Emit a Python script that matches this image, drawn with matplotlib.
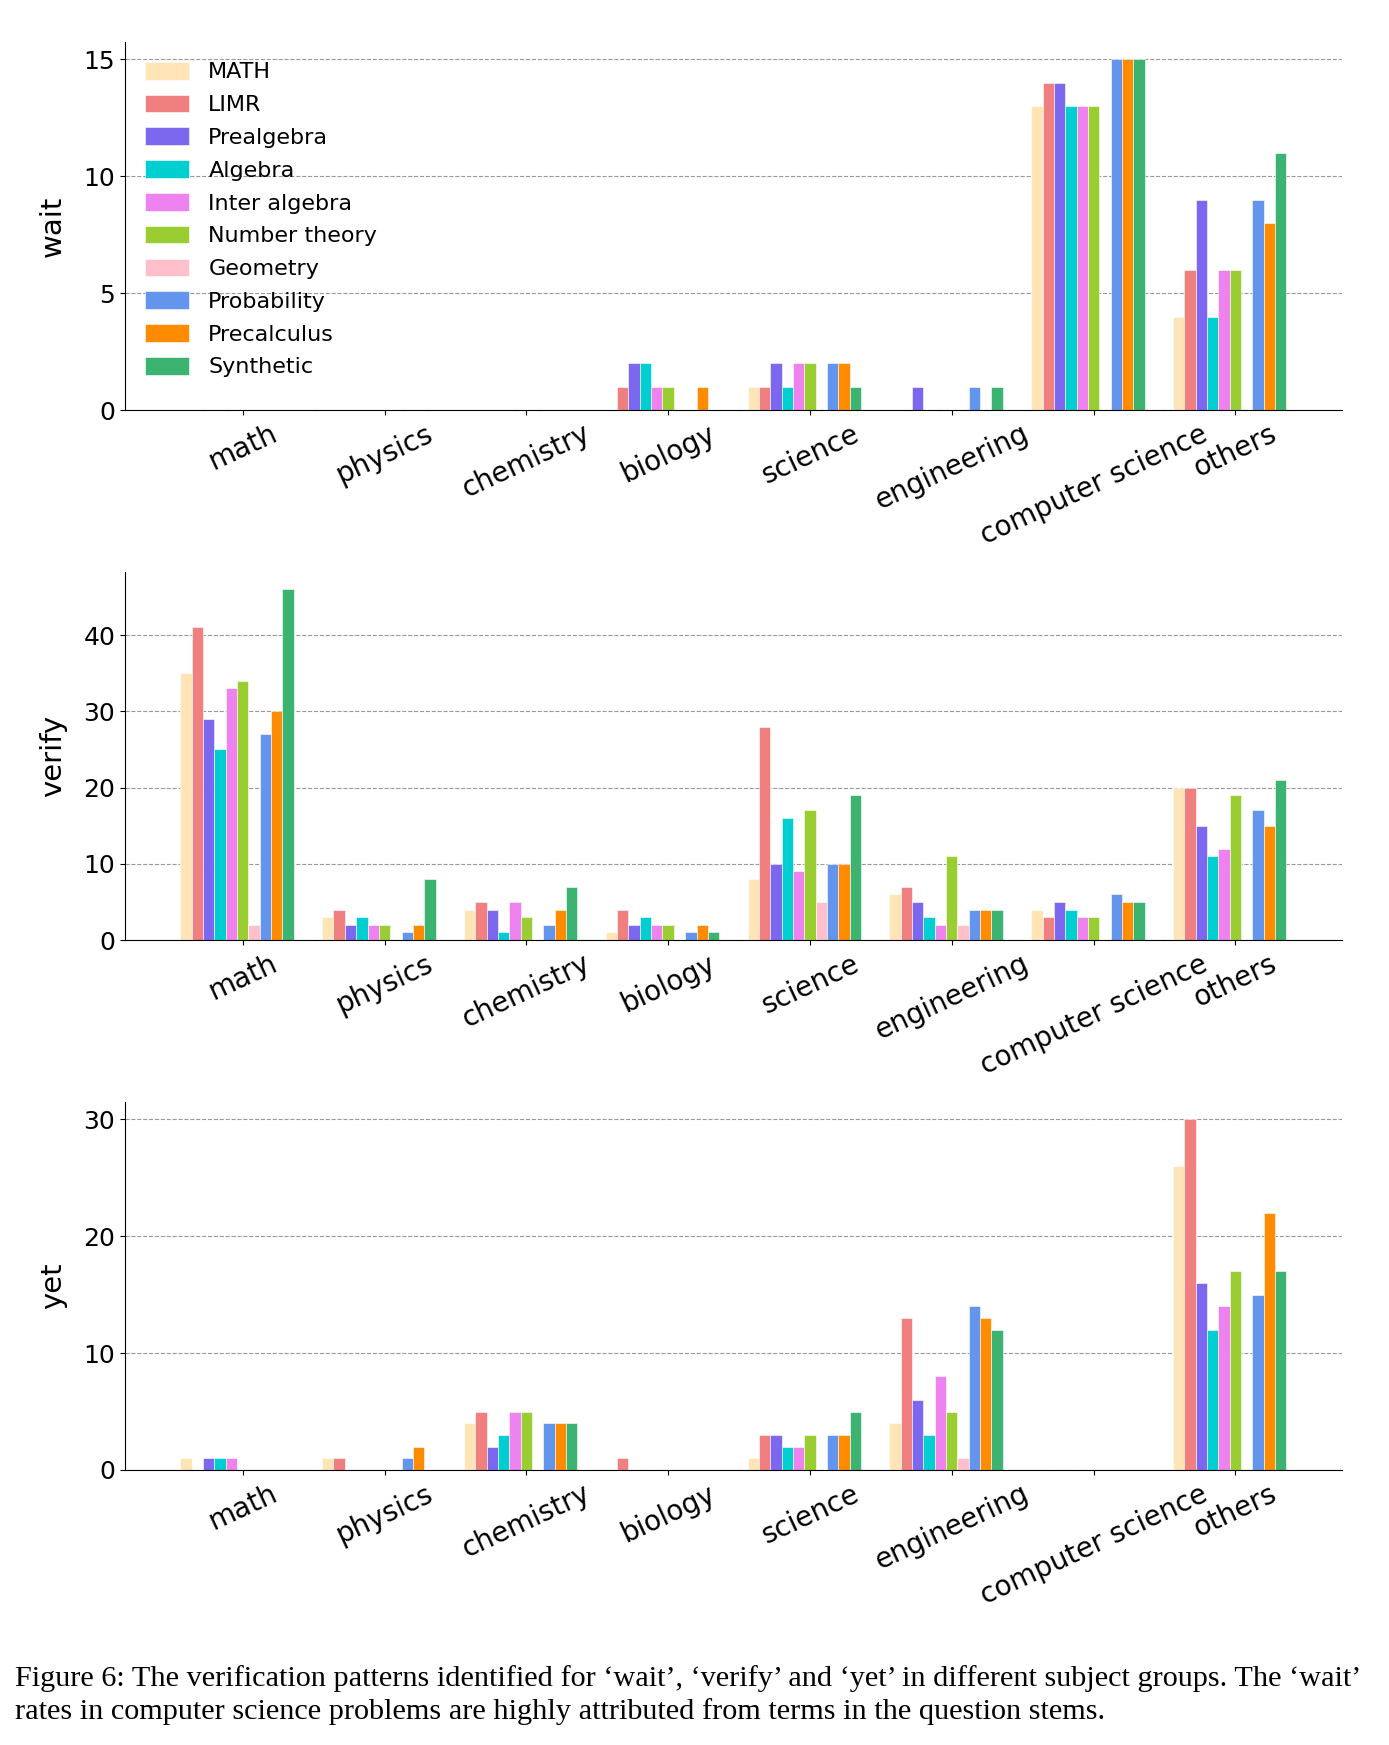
import numpy as np
import matplotlib
matplotlib.use("Agg")
import matplotlib.pyplot as plt

subjects = ['math', 'physics', 'chemistry', 'biology', 'science',
            'engineering', 'computer science', 'others']
datasets = ['MATH', 'LIMR', 'Prealgebra', 'Algebra', 'Inter algebra',
            'Number theory', 'Geometry', 'Probability', 'Precalculus', 'Synthetic']
colors = ['moccasin', 'lightcoral', 'mediumslateblue', 'darkturquoise', 'violet',
          'yellowgreen', 'pink', 'cornflowerblue', 'darkorange', 'mediumseagreen']

# rows = datasets, columns = subjects
wait = [
    [0, 0, 0, 0, 1, 0, 13, 4],    # MATH
    [0, 0, 0, 1, 1, 0, 14, 6],    # LIMR
    [0, 0, 0, 2, 2, 1, 14, 9],    # Prealgebra
    [0, 0, 0, 2, 1, 0, 13, 4],    # Algebra
    [0, 0, 0, 1, 2, 0, 13, 6],    # Inter algebra
    [0, 0, 0, 1, 2, 0, 13, 6],    # Number theory
    [0, 0, 0, 0, 0, 0, 0, 0],     # Geometry
    [0, 0, 0, 0, 2, 1, 15, 9],    # Probability
    [0, 0, 0, 1, 2, 0, 15, 8],    # Precalculus
    [0, 0, 0, 0, 1, 1, 15, 11],   # Synthetic
]
verify = [
    [35, 3, 4, 1, 8, 6, 4, 20],
    [41, 4, 5, 4, 28, 7, 3, 20],
    [29, 2, 4, 2, 10, 5, 5, 15],
    [25, 3, 1, 3, 16, 3, 4, 11],
    [33, 2, 5, 2, 9, 2, 3, 12],
    [34, 2, 3, 2, 17, 11, 3, 19],
    [2, 0, 0, 0, 5, 2, 0, 0],
    [27, 1, 2, 1, 10, 4, 6, 17],
    [30, 2, 4, 2, 10, 4, 5, 15],
    [46, 8, 7, 1, 19, 4, 5, 21],
]
yet = [
    [1, 1, 4, 0, 1, 4, 0, 26],
    [0, 1, 5, 1, 3, 13, 0, 30],
    [1, 0, 2, 0, 3, 6, 0, 16],
    [1, 0, 3, 0, 2, 3, 0, 12],
    [1, 0, 5, 0, 2, 8, 0, 14],
    [0, 0, 5, 0, 3, 5, 0, 17],
    [0, 0, 0, 0, 0, 1, 0, 0],
    [0, 1, 4, 0, 3, 14, 0, 15],
    [0, 2, 4, 0, 3, 13, 0, 22],
    [0, 0, 4, 0, 5, 12, 0, 17],
]

caption_1 = ("Figure 6: The verification patterns identified for \u2018wait\u2019, "
             "\u2018verify\u2019 and \u2018yet\u2019 in different subject groups. The \u2018wait\u2019")
caption_2 = "rates in computer science problems are highly attributed from terms in the question stems."

fig = plt.figure(figsize=(13.89, 17.45), dpi=100)
x = np.arange(len(subjects))
width = 0.08

panels = [('wait', wait, [0, 5, 10, 15], 0.765),
          ('verify', verify, [0, 10, 20, 30, 40], 0.4613),
          ('yet', yet, [0, 10, 20, 30], 0.1576)]

for name, values, yticks, bottom in panels:
    ax = fig.add_axes([0.09, bottom, 0.876, 0.211])
    for i, (label, color) in enumerate(zip(datasets, colors)):
        ax.bar(x + (i - 5) * width, values[i], width, label=label, color=color,
               edgecolor='white', linewidth=0.4)
    ax.set_axisbelow(True)
    ax.yaxis.grid(True, linestyle='--', color='gray', linewidth=0.8, alpha=0.8)
    ax.set_xticks(x)
    ax.set_xticklabels(subjects, rotation=25, fontsize=20)
    ax.set_yticks(yticks)
    ax.tick_params(axis='y', labelsize=18)
    ax.set_ylabel(name, fontsize=21, labelpad=12)
    ax.spines['top'].set_visible(False)
    ax.spines['right'].set_visible(False)
    if name == 'wait':
        ax.legend(loc='upper left', frameon=False, fontsize=16, handletextpad=0.85,
                  labelspacing=0.55, handleheight=0.85)

fig.text(0.011, 0.0338, caption_1, fontsize=21.8, family='Liberation Serif', va='baseline')
fig.text(0.011, 0.0149, caption_2, fontsize=21.8, family='Liberation Serif', va='baseline')

plt.savefig("out.png", dpi=100)
